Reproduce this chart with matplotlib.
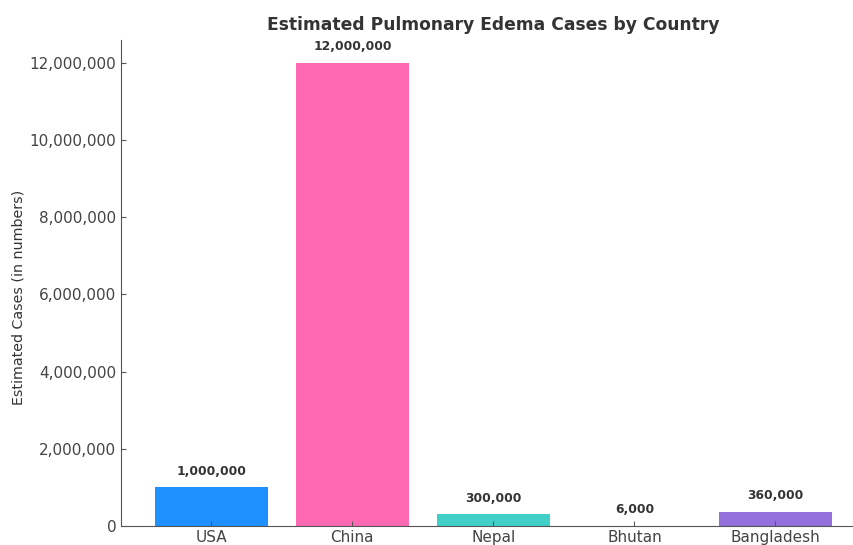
import matplotlib.pyplot as plt
from matplotlib.ticker import FuncFormatter

countries = ['USA', 'China', 'Nepal', 'Bhutan', 'Bangladesh']
cases = [1000000, 12000000, 300000, 6000, 360000]
colors = ['#1E90FF', '#FF69B4', '#40D0C8', '#FFD700', '#9370DB']

fig = plt.figure(figsize=(8.54, 5.45), dpi=100)
ax = fig.add_axes([0.1417, 0.0349, 0.872, 0.892])

bars = ax.bar(countries, cases, color=colors, width=0.8)
for b, v in zip(bars, cases):
    ax.text(b.get_x() + b.get_width() / 2, v + 250000, f'{v:,}',
            ha='center', va='bottom', fontsize=8.8, fontweight='bold', color='#333333')

ax.yaxis.set_major_formatter(FuncFormatter(lambda x, p: f'{int(x):,}'))
ax.set_ylabel('Estimated Cases (in numbers)', fontsize=10.3, color='#333333')
ax.yaxis.set_label_coords(-0.128, 0.47)
ax.set_title('Estimated Pulmonary Edema Cases by Country', fontsize=12.3,
             fontweight='bold', color='#333333', pad=7)

for s in ['top', 'right']:
    ax.spines[s].set_visible(False)
for s in ['left', 'bottom']:
    ax.spines[s].set_color('#555555')
ax.tick_params(direction='in', colors='#555555', labelcolor='#444444', labelsize=11)
ax.tick_params(axis='x', pad=3)

fig.savefig('out.png', dpi=100)
